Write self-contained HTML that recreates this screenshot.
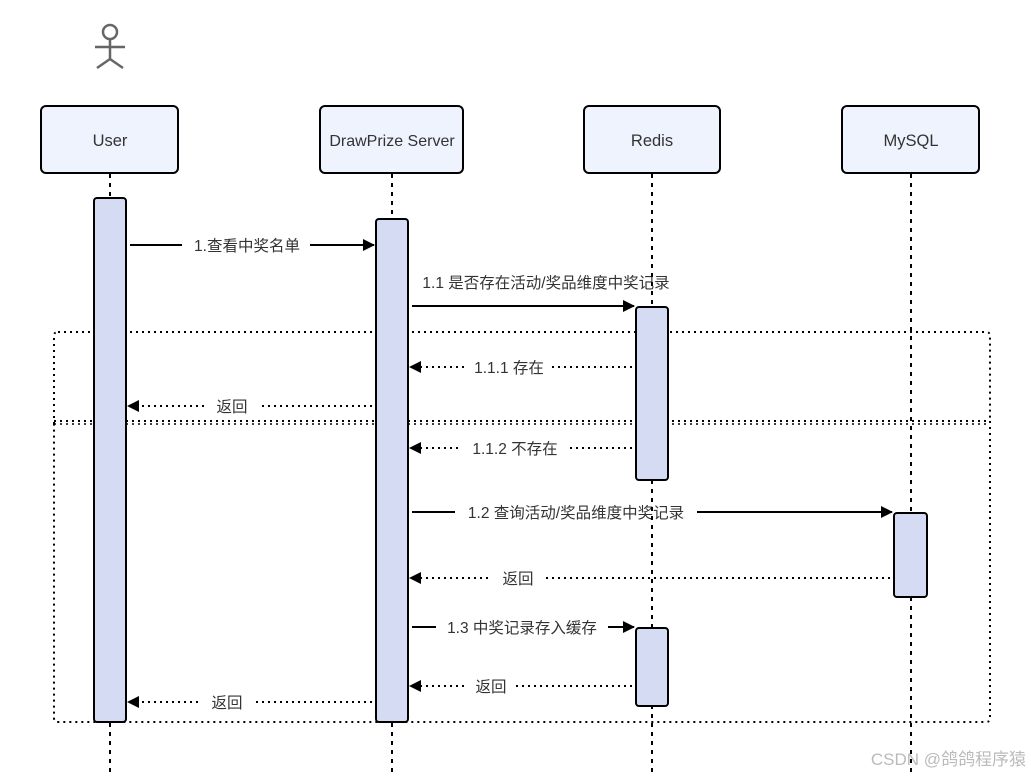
<!DOCTYPE html>
<html><head><meta charset="utf-8"><style>
html,body{margin:0;padding:0;background:#fff;}
svg{display:block;}
text{font-family:"Liberation Sans","Noto Sans CJK SC",sans-serif;font-size:15.5px;fill:#333;}
</style></head><body>
<svg width="1031" height="777" viewBox="0 0 1031 777" xmlns="http://www.w3.org/2000/svg">
<defs>
<marker id="ah" markerWidth="12" markerHeight="12" refX="11" refY="6" orient="auto" markerUnits="userSpaceOnUse">
<path d="M0,0 L12,6 L0,12 Z" fill="#000"/>
</marker>
</defs>
<g stroke="#666" stroke-width="2.5" fill="none">
<circle cx="110" cy="32" r="7"/>
<line x1="95" y1="47" x2="125" y2="47"/>
<line x1="110" y1="39" x2="110" y2="59"/>
<line x1="97" y1="68" x2="110" y2="59"/>
<line x1="123" y1="68" x2="110" y2="59"/>
</g>
<g fill="none" stroke="#000" stroke-width="2" stroke-dasharray="2 4">
<path d="M58,332 H986 Q990,332 990,336 V422 M54,424 V336 Q54,332 58,332"/>
<path d="M54,421 H990 V718 Q990,722 986,722 H58 Q54,722 54,718 V421"/>
<line x1="54" y1="424" x2="990" y2="424" stroke-width="1.5"/>
</g>
<g stroke="#000" stroke-width="2" fill="none">
<line x1="130" y1="245" x2="374" y2="245" marker-end="url(#ah)"/>
<line x1="412" y1="306" x2="634" y2="306" marker-end="url(#ah)"/>
<line x1="632" y1="367" x2="410" y2="367" stroke-dasharray="2 4" marker-end="url(#ah)"/>
<line x1="372" y1="406" x2="128" y2="406" stroke-dasharray="2 4" marker-end="url(#ah)"/>
<line x1="632" y1="448" x2="410" y2="448" stroke-dasharray="2 4" marker-end="url(#ah)"/>
<line x1="412" y1="512" x2="892" y2="512" marker-end="url(#ah)"/>
<line x1="890" y1="578" x2="410" y2="578" stroke-dasharray="2 4" marker-end="url(#ah)"/>
<line x1="412" y1="627" x2="634" y2="627" marker-end="url(#ah)"/>
<line x1="632" y1="686" x2="410" y2="686" stroke-dasharray="2 4" marker-end="url(#ah)"/>
<line x1="372" y1="702" x2="128" y2="702" stroke-dasharray="2 4" marker-end="url(#ah)"/>
</g>
<g fill="#fff">
<rect x="182" y="235" width="128" height="20"/>
<rect x="465" y="357" width="86" height="20"/>
<rect x="205" y="396" width="55" height="20"/>
<rect x="462" y="438" width="106" height="20"/>
<rect x="455" y="502" width="242" height="20"/>
<rect x="436" y="617" width="172" height="20"/>
<rect x="492" y="568" width="52" height="20"/>
<rect x="466" y="676" width="50" height="20"/>
<rect x="200" y="692" width="54" height="20"/>
</g>
<g text-anchor="middle">
<text x="247" y="251">1.查看中奖名单</text>
<text x="546" y="288">1.1 是否存在活动/奖品维度中奖记录</text>
<text x="509" y="373">1.1.1 存在</text>
<text x="232" y="412">返回</text>
<text x="515" y="454">1.1.2 不存在</text>
<text x="576" y="518">1.2 查询活动/奖品维度中奖记录</text>
<text x="518" y="584">返回</text>
<text x="522" y="633">1.3 中奖记录存入缓存</text>
<text x="491" y="692">返回</text>
<text x="227" y="708">返回</text>
</g>
<g stroke="#000" stroke-width="2" stroke-dasharray="4 5">
<line x1="110" y1="174" x2="110" y2="777"/>
<line x1="392" y1="174" x2="392" y2="777"/>
<line x1="652" y1="174" x2="652" y2="777"/>
<line x1="911" y1="174" x2="911" y2="777"/>
</g>
<g fill="#d5dbf3" stroke="#000" stroke-width="2">
<rect x="94" y="198" width="32" height="524" rx="3"/>
<rect x="376" y="219" width="32" height="503" rx="3"/>
<rect x="636" y="307" width="32" height="173" rx="3"/>
<rect x="894" y="513" width="33" height="84" rx="3"/>
<rect x="636" y="628" width="32" height="78" rx="3"/>
</g>
<g fill="#eff3fd" stroke="#000" stroke-width="2">
<rect x="41" y="106" width="137" height="67" rx="5"/>
<rect x="320" y="106" width="143" height="67" rx="5"/>
<rect x="584" y="106" width="136" height="67" rx="5"/>
<rect x="842" y="106" width="137" height="67" rx="5"/>
</g>
<g text-anchor="middle">
<text x="110" y="146" style="font-size:16.5px">User</text>
<text x="392" y="146" style="font-size:16px">DrawPrize Server</text>
<text x="652" y="146" style="font-size:16.5px">Redis</text>
<text x="911" y="146" style="font-size:16.5px">MySQL</text>
</g>
<text x="1026" y="765" text-anchor="end" style="font-size:17px;fill:#bbb">CSDN @鸽鸽程序猿</text>
</svg>
</body></html>
